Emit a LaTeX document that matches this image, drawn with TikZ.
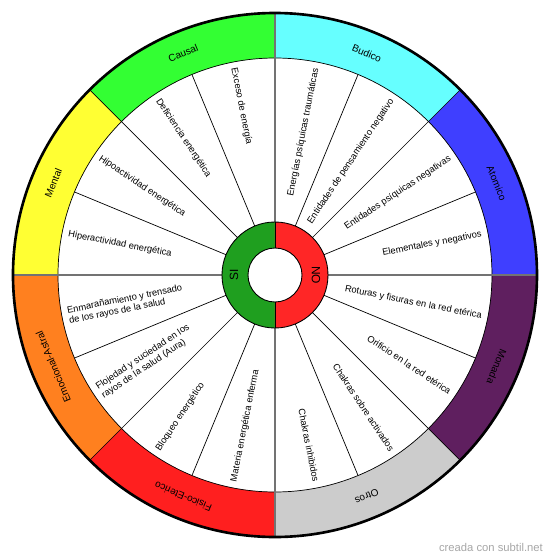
\documentclass[tikz,border=0pt]{standalone}
\usepackage{fontspec}
\setmainfont{Liberation Sans}

\definecolor{causalgreen}{HTML}{33FF33}
\definecolor{budicocyan}{HTML}{66FFFF}
\definecolor{atomicoblue}{HTML}{3F3FFF}
\definecolor{monadapurple}{HTML}{5F1F5F}
\definecolor{otrosgray}{HTML}{CCCCCC}
\definecolor{fisicored}{HTML}{FF1F1F}
\definecolor{emocionalorange}{HTML}{FF801F}
\definecolor{mentalyellow}{HTML}{FFFF33}
\definecolor{sigreen}{HTML}{1F9F1F}
\definecolor{nored}{HTML}{FF2626}

\tikzset{
    spoke/.style={draw=black, line width=0.4pt},
    axisline/.style={draw=black!55, line width=0.6pt},
    rightitem/.style={anchor=east, inner sep=0pt, align=right, font=\fontsize{5.3}{4.9}\selectfont},
    leftitem/.style={anchor=west, inner sep=0pt, align=left, font=\fontsize{5.3}{4.9}\selectfont},
    bandlabel/.style={inner sep=0pt, font=\fontsize{5.7}{6}\selectfont},
    ringlabel/.style={inner sep=0pt, font=\fontsize{6.8}{7}\selectfont}
}

\begin{document}
\begin{tikzpicture}[x=0.02cm, y=0.02cm]

    \useasboundingbox (-275,-284) rectangle (275,275);

    % white disk
    \fill[white] (0,0) circle[radius=262];

    % outer band
    \fill[causalgreen] (90:262) arc[start angle=90, end angle=135, radius=262] -- (135:217) arc[start angle=135, end angle=90, radius=217] -- cycle;
    \fill[mentalyellow] (135:262) arc[start angle=135, end angle=180, radius=262] -- (180:217) arc[start angle=180, end angle=135, radius=217] -- cycle;
    \fill[emocionalorange] (180:262) arc[start angle=180, end angle=225, radius=262] -- (225:217) arc[start angle=225, end angle=180, radius=217] -- cycle;
    \fill[fisicored] (225:262) arc[start angle=225, end angle=270, radius=262] -- (270:217) arc[start angle=270, end angle=225, radius=217] -- cycle;
    \fill[otrosgray] (270:262) arc[start angle=270, end angle=315, radius=262] -- (315:217) arc[start angle=315, end angle=270, radius=217] -- cycle;
    \fill[monadapurple] (315:262) arc[start angle=315, end angle=360, radius=262] -- (0:217) arc[start angle=360, end angle=315, radius=217] -- cycle;
    \fill[atomicoblue] (0:262) arc[start angle=0, end angle=45, radius=262] -- (45:217) arc[start angle=45, end angle=0, radius=217] -- cycle;
    \fill[budicocyan] (45:262) arc[start angle=45, end angle=90, radius=262] -- (90:217) arc[start angle=90, end angle=45, radius=217] -- cycle;
    \draw[spoke] (0,0) circle[radius=217];

    % spokes
    \draw[spoke] (22.5:53) -- (22.5:217);
    \draw[spoke] (45:53) -- (45:262);
    \draw[spoke] (67.5:53) -- (67.5:217);
    \draw[spoke] (112.5:53) -- (112.5:217);
    \draw[spoke] (135:53) -- (135:262);
    \draw[spoke] (157.5:53) -- (157.5:217);
    \draw[spoke] (202.5:53) -- (202.5:217);
    \draw[spoke] (225:53) -- (225:262);
    \draw[spoke] (247.5:53) -- (247.5:217);
    \draw[spoke] (292.5:53) -- (292.5:217);
    \draw[spoke] (315:53) -- (315:262);
    \draw[spoke] (337.5:53) -- (337.5:217);

    % axes
    \draw[axisline] (0:53) -- (0:262);
    \draw[axisline] (90:53) -- (90:262);
    \draw[axisline] (180:53) -- (180:262);
    \draw[axisline] (270:53) -- (270:262);

    % border
    \draw[line width=1.5pt] (0,0) circle[radius=262];

    % band labels
    \node[bandlabel, rotate=22.5] (causal) at (112.5:240) {Causal};
    \node[bandlabel, rotate=-22.5] (budico) at (67.5:240) {Budico};
    \node[bandlabel, rotate=-67.5] (atomico) at (22.5:240) {Atomico};
    \node[bandlabel, rotate=-112.5] (monada) at (-22.5:240) {Monada};
    \node[bandlabel, rotate=-157.5] (otros) at (-67.5:240) {Otros};
    \node[bandlabel, rotate=157.5] (fisico) at (-112.5:240) {Fisico-Eterico};
    \node[bandlabel, rotate=112.5] (emocional) at (-157.5:240) {Emocional-Astral};
    \node[bandlabel, rotate=67.5] (mental) at (157.5:240) {Mental};

    % NO side
    \node[rightitem, rotate=78.75] (traumaticas) at (78.75:211) {Energías psíquicas traumáticas};
    \node[rightitem, rotate=56.25] (pensamiento) at (56.25:211) {Entidades de pensamiento negativo};
    \node[rightitem, rotate=33.75] (psiquicas) at (33.75:211) {Entidades psíquicas negativas};
    \node[rightitem, rotate=11.25] (elementales) at (11.25:211) {Elementales y negativos};
    \node[rightitem, rotate=-11.25] (roturas) at (-11.25:211) {Roturas y fisuras en la red etérica};
    \node[rightitem, rotate=-33.75] (orificio) at (-33.75:211) {Orificio en la red etérica};
    \node[rightitem, rotate=-56.25] (sobreactivados) at (-56.25:211) {Chakras sobre activados};
    \node[rightitem, rotate=-78.75] (inhibidos) at (-78.75:211) {Chakras inhibidos};

    % SI side
    \node[leftitem, rotate=-78.75] (exceso) at (101.25:211) {Exceso de energía};
    \node[leftitem, rotate=-56.25] (deficiencia) at (123.75:211) {Deficiencia energética};
    \node[leftitem, rotate=-33.75] (hipo) at (146.25:211) {Hipoactividad energética};
    \node[leftitem, rotate=-11.25] (hiper) at (168.75:211) {Hiperactividad energética};
    \node[leftitem, rotate=11.25] (enmaranamiento) at (191.25:211) {Enmarañamiento y trensado\\de los rayos de la salud};
    \node[leftitem, rotate=33.75] (flojedad) at (213.75:211) {Flojedad y suciedad en los\\rayos de la salud (Aura)};
    \node[leftitem, rotate=56.25] (bloqueo) at (236.25:211) {Bloqueo energético};
    \node[leftitem, rotate=78.75] (materia) at (258.75:211) {Materia energética enferma};

    % center ring
    \fill[sigreen] (90:53) arc[start angle=90, end angle=270, radius=53] -- (270:27) arc[start angle=270, end angle=90, radius=27] -- cycle;
    \fill[nored] (-90:53) arc[start angle=-90, end angle=90, radius=53] -- (90:27) arc[start angle=90, end angle=-90, radius=27] -- cycle;
    \draw[line width=0.5pt] (0,0) circle[radius=53];
    \draw[line width=0.5pt] (0,0) circle[radius=27];
    \draw[line width=0.4pt] (90:27) -- (90:53);
    \draw[line width=0.4pt] (270:27) -- (270:53);
    \node[ringlabel, rotate=90] (si) at (180:41) {SI};
    \node[ringlabel, rotate=-90] (no) at (0:41) {NO};

    % credit
    \node[inner sep=0pt, text=black!35, font=\fontsize{6.4}{7}\selectfont] (credit) at (216,-272) {creada con subtil.net};

\end{tikzpicture}
\end{document}
